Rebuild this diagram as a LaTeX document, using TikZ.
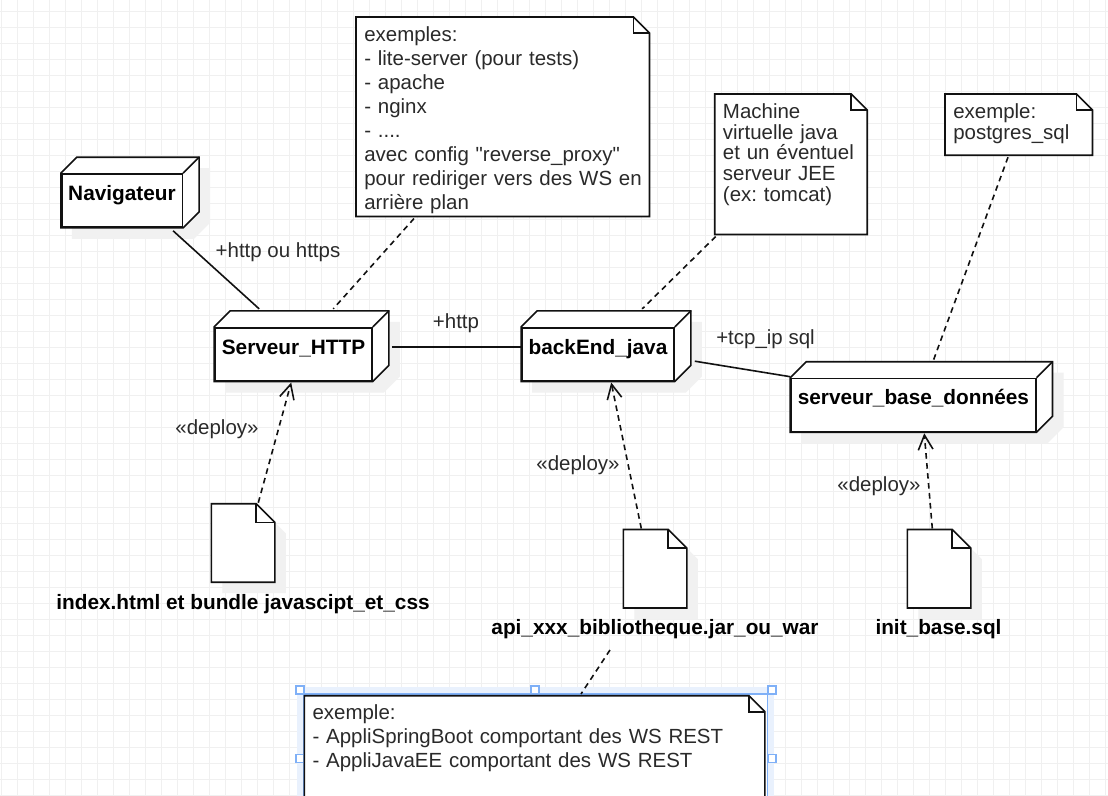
\documentclass[tikz,border=0pt]{standalone}
\usepackage{fontspec}
\setmainfont{Liberation Sans}[Ligatures=TeXOff]
\frenchspacing
\usetikzlibrary{arrows.meta,backgrounds}
\definecolor{gridline}{HTML}{F0F0F0}
\definecolor{shadowgray}{HTML}{F1F1F1}
\definecolor{inkline}{HTML}{111111}
\definecolor{inktext}{HTML}{2A2A2A}
\definecolor{selband}{HTML}{E9F1FD}
\definecolor{selblue}{HTML}{7FB0F7}
\newcommand{\foldpath}[3]{([shift={(#3)}]#1.north west) -- ([shift={(#3)},xshift=-#2]#1.north east) -- ([shift={(#3)},yshift=-#2]#1.north east) -- ([shift={(#3)}]#1.south east) -- ([shift={(#3)}]#1.south west) -- cycle}
\newcommand{\foldflap}[2]{([xshift=-#2]#1.north east) -- ([xshift=-#2,yshift=-#2]#1.north east) -- ([yshift=-#2]#1.north east)}
\newcommand{\cubepath}[3]{([shift={(#2,#3)}]#1.south west) -- ([shift={(#2,#3)}]#1.north west) -- ([shift={(#2+16,#3-16)}]#1.north west) -- ([shift={(#2+16,#3-16)}]#1.north east) -- ([shift={(#2+16,#3-16)}]#1.south east) -- ([shift={(#2,#3)}]#1.south east) -- cycle}
\tikzset{
  cubebox/.style={rectangle, draw=inkline, line width=1.2pt, inner sep=0pt, text=black,
    font=\fontsize{15.6}{18}\selectfont\bfseries, text height=19.75pt, text depth=20pt,
    append after command={\pgfextra{\let\thisbox\tikzlastnode
      \begin{pgfonlayer}{background}
      \fill[shadowgray] \cubepath{\thisbox}{11}{11};
      \fill[white] \cubepath{\thisbox}{0}{0};
      \end{pgfonlayer}
      \draw[inkline, line width=1.2pt, line join=miter] \cubepath{\thisbox}{0}{0};
      \draw[inkline, line width=1.2pt] (\thisbox.north east) -- ([shift={(16,-16)}]\thisbox.north east);
    }}},
  notebox/.style={rectangle, anchor=north west, align=left, inner xsep=6pt, inner ysep=0pt,
    text=inktext, font=\fontsize{15.35}{18}\selectfont, text height=18pt,
    append after command={\pgfextra{\let\thisbox\tikzlastnode
      \begin{pgfonlayer}{background}
      \fill[white] \foldpath{\thisbox}{12pt}{0,0};
      \end{pgfonlayer}
      \draw[inkline, line width=1.2pt] \foldpath{\thisbox}{12pt}{0,0};
      \draw[inkline, line width=1.2pt] \foldflap{\thisbox}{12pt};
    }}},
  tightnote/.style={notebox, font=\fontsize{15.35}{15.6}\selectfont},
  filebox/.style={rectangle, anchor=north west, inner sep=0pt, minimum width=47.25pt, minimum height=58.5pt,
    append after command={\pgfextra{\let\thisbox\tikzlastnode
      \begin{pgfonlayer}{background}
      \fill[shadowgray] \foldpath{\thisbox}{14pt}{11,11};
      \fill[white] \foldpath{\thisbox}{14pt}{0,0};
      \end{pgfonlayer}
      \draw[inkline, line width=1.2pt] \foldpath{\thisbox}{14pt}{0,0};
      \draw[inkline, line width=1.2pt] \foldflap{\thisbox}{14pt};
    }}},
  filelabel/.style={anchor=base, inner sep=0pt, text=black, font=\fontsize{15.6}{18}\selectfont\bfseries},
  linklabel/.style={anchor=base, inner sep=0pt, text=inktext, font=\fontsize{15.35}{18}\selectfont},
  handlebox/.style={rectangle, draw=selblue, fill=white, line width=0.9pt, inner sep=0pt, minimum size=6pt},
  assoc/.style={draw=inkline, line width=1.2pt},
  noteline/.style={draw=inkline, line width=1.2pt, dash pattern=on 4.2pt off 3.3pt},
  deploy/.style={noteline, -{Straight Barb[length=11pt,width=11pt,line width=1.2pt]}},
}
\begin{document}
\begin{tikzpicture}[x=0.75pt, y=-0.75pt]
\useasboundingbox (0,0) rectangle (1108,796);
\begin{pgfonlayer}{background}
\fill[white] (0,0) rectangle (1108,796);
\foreach \gx in {0,...,69} \draw[gridline, line width=0.75pt] ({1.7+16*\gx},0) -- ({1.7+16*\gx},796);
\foreach \gy in {0,...,49} \draw[gridline, line width=0.75pt] (0,{11.7+16*\gy}) -- (1108,{11.7+16*\gy});
\fill[selband] (297,687) rectangle (774,800);
\foreach \hx in {300,535,772} \node[handlebox] (handle-\hx-top) at (\hx,690) {};
\foreach \hx in {300,772} \node[handlebox] (handle-\hx-mid) at (\hx,758.5) {};
\draw[selblue, line width=1.2pt, fill=white] (303.5,694) rectangle (767.3,800);
\end{pgfonlayer}

\node[cubebox, minimum width=90.45pt] (navigateur) at (122,200.5) {Navigateur};
\node[cubebox, minimum width=117.75pt] (serveurhttp) at (293.5,354.2) {Serveur\_HTTP};
\node[cubebox, minimum width=114pt] (backend) at (598,354.2) {backEnd\_java};
\node[cubebox, minimum width=183.5pt] (serveurbase) at (913.4,405) {serveur\_base\_données};

\node[notebox, text width=207.75pt, text depth=131.25pt] (noteproxy) at (356,17) {exemples:\\- lite-server (pour tests)\\- apache\\- nginx\\- ....\\avec config "reverse\_proxy"\\\mbox{pour rediriger vers des WS en}\\arrière plan};
\node[tightnote, text width=102pt, text depth=87pt] (notejava) at (714.7,94) {Machine\\virtuelle java\\et un éventuel\\serveur JEE\\(ex: tomcat)};
\node[tightnote, text width=98.25pt, text depth=27.5pt] (notebase) at (945,94) {exemple:\\postgres\_sql};
\node[notebox, text width=333pt, text depth=90pt] (noteappli) at (304.3,695.7) {exemple:\\- AppliSpringBoot comportant des WS REST\\- AppliJavaEE comportant des WS REST};

\node[filebox] (fileindex) at (211.3,503.7) {};
\node[filebox] (fileapi) at (623.3,529.5) {};
\node[filebox] (fileinit) at (907.3,529.5) {};
\node[filelabel] (labelindex) at (243,609) {index.html et bundle javascipt\_et\_css};
\node[filelabel] (labelapi) at (655,634) {api\_xxx\_bibliotheque.jar\_ou\_war};
\node[filelabel] (labelinit) at (938.5,634) {init\_base.sql};

\draw[assoc] ([shift={(-10,3)}]navigateur.south east) -- ([shift={(45,-18)}]serveurhttp.north west);
\draw[assoc] ([shift={(19,-7)}]serveurhttp.east) -- ([shift={(0,-7)}]backend.west);
\draw[assoc] ([shift={(20,7)}]backend.east) -- ([shift={(0,-1)}]serveurbase.north west);
\draw[noteline] ([shift={(58,2)}]noteproxy.south west) -- ([shift={(119,-18)}]serveurhttp.north west);
\draw[noteline] ([shift={(1,2)}]notejava.south west) -- ([shift={(121,-18)}]backend.north west);
\draw[noteline] ([shift={(63,2)}]notebase.south west) -- ([shift={(143,-17)}]serveurbase.north west);
\draw[noteline] ([shift={(-45,16)}]labelapi.base) -- ([shift={(276.7,-1.7)}]noteappli.north west);
\draw[deploy] ([shift={(47,-1)}]fileindex.north west) -- ([shift={(77,1)}]serveurhttp.south west);
\draw[deploy] ([shift={(18,-1)}]fileapi.north west) -- ([shift={(90,1)}]backend.south west);
\draw[deploy] ([shift={(25,-1)}]fileinit.north west) -- ([shift={(134,1)}]serveurbase.south west);

\node[linklabel] (labelhttps) at (278,257) {+http ou https};
\node[linklabel] (labelhttp) at (456,328) {+http};
\node[linklabel] (labeltcp) at (765.5,344) {+tcp\_ip sql};
\node[linklabel] (deployindex) at (217,434) {«deploy»};
\node[linklabel] (deployapi) at (578,470) {«deploy»};
\node[linklabel] (deployinit) at (879,491) {«deploy»};
\end{tikzpicture}
\end{document}
